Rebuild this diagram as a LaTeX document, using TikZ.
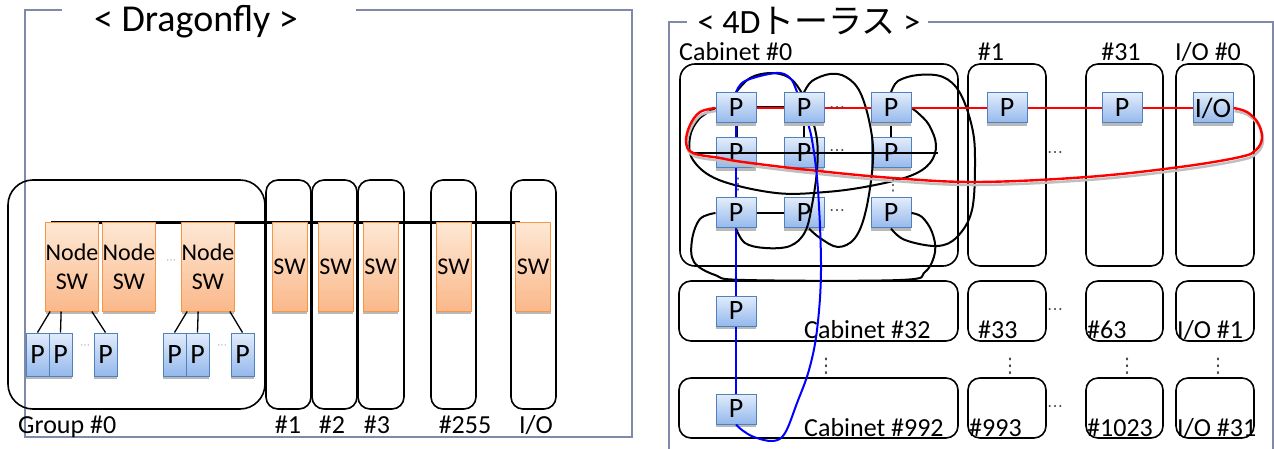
\documentclass[tikz,border=0pt]{standalone}
\usepackage{fontspec}
\setmainfont{Carlito}
\newfontfamily\jpfont{Noto Sans CJK JP}
\newfontfamily\symfont{DejaVu Sans}
\usetikzlibrary{shadows,backgrounds}
\pgfdeclarelayer{front}
\pgfsetlayers{background,main,front}

\definecolor{framegray}{RGB}{128,138,168}
\definecolor{swedge}{RGB}{247,150,70}
\definecolor{swtop}{RGB}{254,232,212}
\definecolor{swbot}{RGB}{250,184,138}
\definecolor{pedge}{RGB}{79,129,189}
\definecolor{ptop}{RGB}{226,236,251}
\definecolor{pbot}{RGB}{148,184,236}

\tikzset{
  frameline/.style={draw=framegray,line width=1.3pt},
  title/.style={anchor=base,inner sep=0pt},
  lbl/.style={font=\fontsize{26}{28}\selectfont,anchor=base west,inner sep=0pt},
  lblc/.style={lbl,anchor=base},
  grpbox/.style={draw,line width=1.6pt,rounded corners=12pt,minimum height=229pt,inner sep=0pt},
  swbox/.style={draw=swedge,line width=1pt,top color=swtop,bottom color=swbot,
    minimum height=88pt,inner sep=0pt,align=center,font=\fontsize{24}{29}\selectfont,
    drop shadow={shadow xshift=0pt,shadow yshift=-3pt,fill=gray!55,opacity=1}},
  pbox/.style={draw=pedge,line width=1pt,top color=ptop,bottom color=pbot,
    inner sep=0pt,font=\fontsize{28}{28}\selectfont,
    drop shadow={shadow xshift=0pt,shadow yshift=-3pt,fill=gray!55,opacity=1}},
  lp/.style={pbox,minimum width=23pt,minimum height=43pt},
  rp/.style={pbox,minimum width=40pt,minimum height=30pt},
  cab/.style={draw,line width=1.6pt,rounded corners=12pt,inner sep=0pt},
  link/.style={line width=2pt},
  redline/.style={draw=red,line width=2.4pt},
  blueline/.style={draw=blue,line width=2pt},
  dotsl/.style={text=gray!70,font=\symfont\fontsize{10}{10}\selectfont,inner sep=0pt},
  dotsr/.style={text=black!70,font=\symfont\fontsize{16}{16}\selectfont,inner sep=0pt},
  vdotsr/.style={text=black!70,font=\symfont\fontsize{20}{20}\selectfont,inner sep=0pt}
}

\begin{document}
\begin{tikzpicture}[x=1pt,y=-1pt]
\useasboundingbox (0,0) rectangle (1274,449);

% Dragonfly
\draw[frameline] (62,10) -- (25,10) -- (25,437) -- (632,437) -- (632,10) -- (356,10);
\node[title,font=\fontsize{38}{40}\selectfont] (tdf) at (196,32) {< Dragonfly >};

\node[grpbox,minimum width=257pt,rounded corners=25pt] (g0) at (136.5,294.5) {};
\node[grpbox,minimum width=45pt] (g1) at (288.5,294.5) {};
\node[grpbox,minimum width=45pt] (g2) at (334.5,294.5) {};
\node[grpbox,minimum width=46pt] (g3) at (381,294.5) {};
\node[grpbox,minimum width=45pt] (g255) at (453.5,294.5) {};
\node[grpbox,minimum width=45pt] (gio) at (533.5,294.5) {};

\node[swbox,minimum width=46pt] (ns1) at (72,267) {Node\\SW};
\node[swbox,minimum width=46pt] (ns2) at (129,267) {Node\\SW};
\node[swbox,minimum width=46pt] (ns3) at (208,267) {Node\\SW};
\node[swbox,minimum width=35pt] (sw1) at (289.5,267) {SW};
\node[swbox,minimum width=35pt] (sw2) at (335.5,267) {SW};
\node[swbox,minimum width=35pt] (sw3) at (380.5,267) {SW};
\node[swbox,minimum width=35pt] (sw255) at (453.5,267) {SW};
\node[swbox,minimum width=35pt] (swio) at (533,267) {SW};
\begin{scope}[on background layer]
\draw[line width=3pt] ([xshift=6pt]ns1.north west) -- ([xshift=5pt]swio.north west);
\end{scope}

\node[lp] (pa1) at (37.5,354.5) {P};
\node[lp] (pa2) at (60.5,354.5) {P};
\node[lp] (pa3) at (105.5,354.5) {P};
\node[lp] (pb1) at (174.5,354.5) {P};
\node[lp] (pb2) at (197.5,354.5) {P};
\node[lp] (pb3) at (242.5,354.5) {P};
\draw[line width=1.3pt] ([xshift=5pt]ns1.south west) -- (pa1.north);
\draw[line width=1.3pt] ([xshift=16pt]ns1.south west) -- (pa2.north);
\draw[line width=1.3pt] ([xshift=-7pt]ns1.south east) -- (pa3.north);
\draw[line width=1.3pt] ([xshift=6pt]ns3.south west) -- (pb1.north);
\draw[line width=1.3pt] ([xshift=17pt]ns3.south west) -- (pb2.north);
\draw[line width=1.3pt] ([xshift=-5pt]ns3.south east) -- (pb3.north);

\node[dotsl] (dl0) at (171,262) {⋯};
\node[dotsl] (dl1) at (85,347) {⋯};
\node[dotsl] (dl2) at (222,347) {⋯};

\node[lbl] (lg0) at (18,433) {Group \#0};
\node[lblc] (lg1) at (288,433) {\#1};
\node[lblc] (lg2) at (332,433) {\#2};
\node[lblc] (lg3) at (377,433) {\#3};
\node[lblc] (lg255) at (465,433) {\#255};
\node[lblc] (lgio) at (536,433) {I/O};

% 4D torus
\draw[frameline] (687,22) -- (669,22) -- (669,449);
\draw[frameline] (928,22) -- (1273,22) -- (1273,449);
\node[title,font=\fontsize{34}{36}\selectfont] (t4d) at (809,34) {< 4D{\jpfont トーラス} >};

\node[cab,minimum width=278pt,minimum height=202pt,rounded corners=15pt] (c0) at (819,165) {};
\node[cab,minimum width=78pt,minimum height=202pt] (c1) at (1007,165) {};
\node[cab,minimum width=77pt,minimum height=202pt] (c31) at (1124.5,165) {};
\node[cab,minimum width=78pt,minimum height=202pt] (cio0) at (1215,165) {};
\node[cab,minimum width=279pt,minimum height=60pt] (c32) at (818.5,311) {};
\node[cab,minimum width=78pt,minimum height=60pt] (c33) at (1007,311) {};
\node[cab,minimum width=77pt,minimum height=60pt] (c63) at (1124.5,311) {};
\node[cab,minimum width=78pt,minimum height=60pt] (cio1) at (1215,311) {};
\node[cab,minimum width=279pt,minimum height=60pt] (c992) at (818.5,408) {};
\node[cab,minimum width=78pt,minimum height=60pt] (c993) at (1007,408) {};
\node[cab,minimum width=77pt,minimum height=60pt] (c1023) at (1124.5,408) {};
\node[cab,minimum width=78pt,minimum height=60pt] (cio31) at (1215,408) {};

\node[lbl] (lc0) at (679,61) {Cabinet \#0};
\node[lblc] (lc1) at (991,61) {\#1};
\node[lblc] (lc31) at (1121,61) {\#31};
\node[lblc] (lcio0) at (1208,61) {I/O \#0};
\node[lbl] (lc32) at (804,338) {Cabinet \#32};
\node[lbl] (lc33) at (978,338) {\#33};
\node[lbl] (lc63) at (1087,338) {\#63};
\node[lbl] (lcio1) at (1177,338) {I/O \#1};
\node[lbl] (lc992) at (804,436) {Cabinet \#992};
\node[lbl] (lc993) at (969,436) {\#993};
\node[lbl] (lc1023) at (1087,436) {\#1023};
\node[lbl] (lcio31) at (1177,436) {I/O \#31};

\begin{pgfonlayer}{front}
\node[rp] (p11) at (736,108) {P};
\node[rp] (p12) at (804,108) {P};
\node[rp] (p13) at (891,108) {P};
\end{pgfonlayer}
\node[rp] (p21) at (736,153) {P};
\node[rp] (p22) at (804,153) {P};
\node[rp] (p23) at (891,153) {P};
\node[rp] (p31) at (736,213) {P};
\node[rp] (p32) at (804,213) {P};
\node[rp] (p33) at (891,213) {P};
\node[rp] (q1) at (1007,108) {P};
\node[rp] (q31) at (1122,108) {P};
\node[rp] (io0) at (1213,108) {I/O};
\node[rp] (pc32) at (736,311) {P};
\node[rp] (pc992) at (736,409) {P};

\draw[link,line width=3pt] (p11.east) -- (p12.west);
\draw[link,line width=3pt] (p11.south) -- (p21.north);
\draw[link] (p12.south) -- (p22.north);
\draw[link] (p13.south) -- (p23.north);
\draw[link] (p31.east) -- (p32.west);
\draw[link] ([xshift=-27pt]p21.west) -- ([xshift=26pt]p23.east);

\draw[link] plot[smooth,tension=0.6] coordinates {(p11.west) (699,119) (690,137) (693,160) (719,180) (776,193) (826,192) (870,186) (910,176) (930,163) (936,145) (929,125) (918,113) (p13.east)};
\draw[link] plot[smooth,tension=0.6] coordinates {(p31.west) (700,219) (692,240) (694,262) (715,275) (745,280) (900,280) (925,272) (935,252) (932,232) (922,217) (p33.east)};
\draw[link] plot[smooth,tension=0.6] coordinates {(p31.south) (745,243) (765,248) (790,246) (805,232) (812,205) (817,170) (817,140) (810,112) (800,90) (788,77) (770,73) (750,78) (p11.north)};
\draw[link] plot[smooth,tension=0.6] coordinates {(p12.north) (812,81) (830,74) (846,77) (860,92) (870,125) (873,160) (866,210) (855,238) (838,247) (820,238) ([xshift=5pt]p32.south)};
\draw[link] plot[smooth,tension=0.6] coordinates {(p13.north) (898,81) (918,75) (943,77) (960,93) (972,127) (975,160) (972,210) (957,237) (937,246) (905,240) (p33.south)};

\draw[redline] (p11.east) -- (p12.west) (p12.east) -- (p13.west) (p13.east) -- (q1.west) (q1.east) -- (q31.west) (q31.east) -- (io0.west);
\draw[draw=gray!50,line width=2.5pt,transform canvas={shift={(1pt,-3pt)}}] plot[smooth,tension=0.6] coordinates {(p11.west) (700,112) (690,125) (686,142) (693,153) (720,158) (743,162) (809,170) (893,178) (977,182) (1087,177) (1180,167) (1240,157) (1256,150) (1262,138) (1258,123) (1247,112) (io0.east)};
\draw[redline] plot[smooth,tension=0.6] coordinates {(p11.west) (700,112) (690,125) (686,142) (693,153) (720,158) (743,162) (809,170) (893,178) (977,182) (1087,177) (1180,167) (1240,157) (1256,150) (1262,138) (1258,123) (1247,112) (io0.east)};

\draw[blueline] (p11.south) -- (p21.north) (p21.south) -- (p31.north) (p31.south) -- (pc32.north) (pc32.south) -- (pc992.north);
\draw[blueline] plot[smooth,tension=0.6] coordinates {(p11.north) (745,81) (776,73) (790,78) (797,92) (805,115) (812,140) (818,190) (821,270) (817,330) (809,370) (797,403) (785,433) (773,441) (754,437) (742,430) (pc992.south)};

\node[dotsr] (dr1) at (837,110) {⋯};
\node[dotsr] (dr2) at (837,153) {⋯};
\node[dotsr] (dr3) at (837,213) {⋯};
\node[dotsr] (dv1) at (738,185) {⋮};
\node[dotsr] (dv3) at (893,186) {⋮};
\node[dotsr] (dh1) at (1055,155) {⋯};
\node[dotsr] (dh2) at (1055,312) {⋯};
\node[dotsr] (dh3) at (1055,409) {⋯};
\node[vdotsr] (dw1) at (826,366) {⋮};
\node[vdotsr] (dw2) at (1010,366) {⋮};
\node[vdotsr] (dw3) at (1127,366) {⋮};
\node[vdotsr] (dw4) at (1218,366) {⋮};
\end{tikzpicture}
\end{document}
